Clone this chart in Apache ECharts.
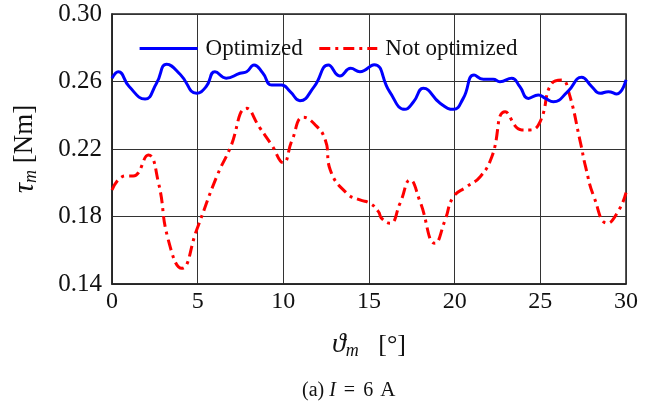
<!DOCTYPE html>
<html><head><meta charset="utf-8">
<script src="https://cdn.jsdelivr.net/npm/echarts@6/dist/echarts.min.js"></script>
<style>html,body{margin:0;padding:0;background:#fff}#c{width:658px;height:403px}</style>
</head><body><div id="c"></div>
<script>
const xTicks = [0, 5, 10, 15, 20, 25, 30];
const yTicks = [0.14, 0.18, 0.22, 0.26, 0.30];
const optX = [0, 0.37, 1.0, 1.93, 2.6, 3.19, 4.0, 4.94, 5.5, 6.01, 6.66, 7.47, 7.86, 8.29, 8.8, 9.32, 9.9, 10.4, 10.97, 11.8, 12.63, 13.3, 13.93, 14.47, 15.3, 16.2, 17.1, 17.6, 18.17, 19.15, 19.93, 20.5, 21.13, 21.67, 22.25, 22.64, 23.33, 23.8, 24.3, 24.88, 25.3, 25.76, 26.6, 27.41, 28.0, 28.49, 28.97, 29.46, 30];
const optY = [0.2619, 0.2658, 0.2570, 0.2496, 0.2590, 0.2702, 0.2640, 0.2530, 0.2570, 0.2658, 0.2620, 0.2649, 0.2658, 0.2698, 0.2650, 0.2579, 0.2579, 0.2540, 0.2486, 0.2570, 0.2698, 0.2633, 0.2678, 0.2658, 0.2700, 0.2540, 0.2435, 0.2480, 0.2560, 0.2471, 0.2435, 0.2500, 0.2638, 0.2613, 0.2613, 0.2599, 0.2619, 0.2570, 0.2500, 0.2520, 0.2500, 0.2480, 0.2540, 0.2625, 0.2570, 0.2530, 0.2540, 0.2526, 0.2609];
const notX = [0, 0.76, 1.24, 2.12, 2.7, 3.29, 4.07, 4.94, 6.11, 6.89, 7.86, 8.6, 9.32, 10.0, 10.5, 11.17, 11.8, 12.45, 12.74, 13.71, 14.47, 15.06, 15.55, 15.74, 16.23, 16.81, 17.4, 17.98, 18.86, 19.44, 19.93, 20.71, 21.49, 22.17, 22.95, 23.92, 24.41, 24.99, 25.67, 26.26, 26.65, 27.35, 27.64, 28.13, 28.91, 29.59, 30];
const notY = [0.1957, 0.2040, 0.2040, 0.2164, 0.2006, 0.1660, 0.1493, 0.1720, 0.2036, 0.2204, 0.2441, 0.2330, 0.2224, 0.2119, 0.2250, 0.2388, 0.2350, 0.2253, 0.2076, 0.1937, 0.1898, 0.1878, 0.1829, 0.1789, 0.1760, 0.1878, 0.2016, 0.1888, 0.1641, 0.1779, 0.1917, 0.1977, 0.2036, 0.2154, 0.2421, 0.2313, 0.2313, 0.2362, 0.2589, 0.2609, 0.2540, 0.2234, 0.2095, 0.1917, 0.1760, 0.1839, 0.1941];

const F = "'Liberation Serif','DejaVu Serif',serif";
const pair = (xs, ys) => xs.map((x, i) => [x, ys[i]]);
const chart = echarts.init(document.getElementById('c'), null, {renderer: 'canvas'});
chart.setOption({
  animation: false,
  backgroundColor: '#fff',
  grid: {left: 112, right: 32, top: 14, bottom: 119, show: true, borderColor: '#222', borderWidth: 1.5, backgroundColor: 'transparent'},
  legend: {
    left: 133, top: 32, itemWidth: 58, itemHeight: 14, itemGap: 15,
    itemStyle: {opacity: 0},
    textStyle: {fontFamily: F, fontSize: 23, color: '#111', padding: [0, 0, 0, 3]},
    data: [
      {name: 'Optimized', lineStyle: {color: '#0000ff', width: 3.2, type: 'solid'}},
      {name: 'Not optimized', lineStyle: {color: '#ff0000', width: 3.2, type: [11, 5, 3, 5]}}
    ]
  },
  title: {
    text: '{p|(a)}{i|I}{e|=}{n|6}{a|A}', left: 297, top: 375,
    textStyle: {fontFamily: F, fontSize: 20, fontWeight: 'normal', color: '#111',
      rich: {
        p: {fontFamily: F, fontSize: 20, color: '#111'},
        i: {fontFamily: F, fontSize: 20, fontStyle: 'italic', color: '#111', padding: [0, 0, 0, 5]},
        e: {fontFamily: F, fontSize: 20, color: '#111', padding: [0, 8, 0, 8]},
        n: {fontFamily: F, fontSize: 20, color: '#111'},
        a: {fontFamily: F, fontSize: 21, color: '#111', padding: [0, 0, 0, 7]}
      }}
  },
  xAxis: {
    type: 'value', min: 0, max: 30, interval: 5,
    name: '{i|ϑ}{s|m}   [°]', nameLocation: 'middle', nameGap: 46,
    nameTextStyle: {fontFamily: F, fontSize: 26, color: '#111',
      rich: {i: {fontFamily: F, fontSize: 28, fontStyle: 'italic', color: '#111'},
             s: {fontFamily: F, fontSize: 18, fontStyle: 'italic', color: '#111', verticalAlign: 'bottom', padding: [12, 0, 0, 0]}}},
    axisLine: {show: true, lineStyle: {color: '#222', width: 1.5}},
    axisTick: {show: false},
    axisLabel: {fontFamily: F, fontSize: 24, color: '#111', margin: 6, formatter: v => String(v)},
    splitLine: {show: true, lineStyle: {color: '#333', width: 1}}
  },
  yAxis: {
    type: 'value', min: 0.14, max: 0.30, interval: 0.04,
    name: '{i|τ}{s|m} [Nm]', nameLocation: 'middle', nameGap: 72, nameRotate: 90,
    nameTextStyle: {fontFamily: F, fontSize: 27, color: '#111',
      rich: {i: {fontFamily: F, fontSize: 29, fontStyle: 'italic', color: '#111'},
             s: {fontFamily: F, fontSize: 18, fontStyle: 'italic', color: '#111', verticalAlign: 'bottom', padding: [12, 0, 0, 0]}}},
    axisLine: {show: true, lineStyle: {color: '#222', width: 1.5}},
    axisTick: {show: false},
    axisLabel: {fontFamily: F, fontSize: 25, color: '#111', margin: 10, formatter: v => v.toFixed(2)},
    splitLine: {show: true, lineStyle: {color: '#333', width: 1}}
  },
  series: [
    {name: 'Optimized', type: 'line', smooth: 0.5, symbol: 'none', data: pair(optX, optY),
     lineStyle: {color: '#0000ff', width: 3}, itemStyle: {color: '#0000ff'}, z: 3},
    {name: 'Not optimized', type: 'line', smooth: 0.5, symbol: 'none', data: pair(notX, notY),
     lineStyle: {color: '#ff0000', width: 3, type: [11, 5, 3, 5]}, itemStyle: {color: '#ff0000'}, z: 2}
  ]
});
</script></body></html>
